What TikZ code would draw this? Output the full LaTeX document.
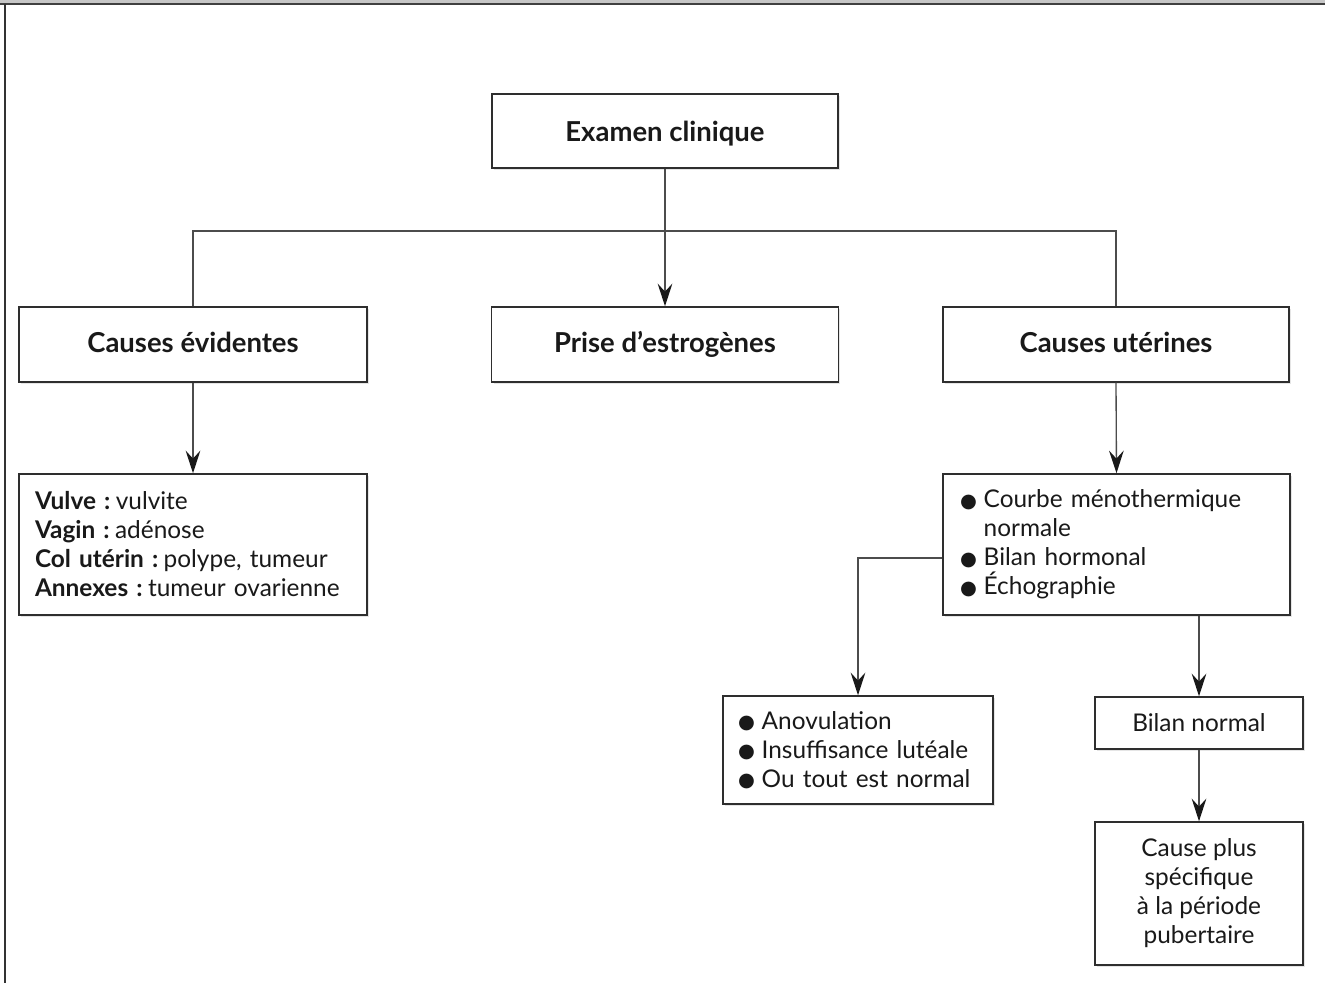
\documentclass[tikz,border=0pt]{standalone}
\usepackage{fontspec}
\setmainfont{Lato}
\newfontfamily\symfont{DejaVu Sans}
\usetikzlibrary{arrows.meta,shadows,calc}
\newcommand\blt{\raisebox{0.02em}{\symfont\fontsize{14.5}{14.5}\selectfont ●}\hspace{0.28em}}
\newcommand\titlefont{\fontsize{20.6}{24}\selectfont\bfseries}
\newcommand\bodyfont{\fontsize{18.3}{21.75}\selectfont}
\newcommand\lbl[1]{\textbf{#1}\hspace{0.22em}}
\begin{document}
\begin{tikzpicture}[x=0.75pt,y=-0.75pt,
  box/.style={draw=black!82, line width=1.1pt, fill=white,
    drop shadow={shadow xshift=1.6pt, shadow yshift=-1.6pt, opacity=0.10, fill=black},
    inner xsep=12pt, inner ysep=0pt, text=black!90},
  titlebox/.style={box, font=\titlefont, align=center, text height=14pt, text depth=2.75pt},
  listbox/.style={box, font=\bodyfont, align=left},
  link/.style={draw=black!70, line width=1pt},
  arr/.style={link, -{Stealth[length=17pt,width=11pt,inset=6pt,color=black!90,fill=black!90]}}
]
\useasboundingbox (0,0) rectangle (1325,983);

% frame: grey band on top and a rule on the left
\fill[black!22] (0,0) rectangle (1325,3.2);
\draw[black!75, line width=1.2pt] (0,4) -- (1325,4);
\draw[black!80, line width=1.5pt] (5,4) -- (5,983);

% boxes
\node[titlebox, text height=18pt, text depth=2pt, minimum width=259.5pt, minimum height=55.5pt] (exam) at (665,131) {Examen clinique};
\node[titlebox, minimum width=261pt, minimum height=56.25pt] (ev) at (193,344.5) {Causes évidentes};
\node[titlebox, minimum width=260pt, minimum height=56.25pt] (prise) at (665,344.5) {Prise d’estrogènes};
\node[titlebox, minimum width=259.5pt, minimum height=56.25pt] (uter) at (1116,344.5) {Causes utérines};

\node[listbox, text width=237pt, minimum height=105.75pt] (vulve) at (193,544.5)
  {\lbl{Vulve :}vulvite\\
   \lbl{Vagin :}adénose\\
   \lbl{Col utérin :}polype, tumeur\\
   \lbl{Annexes :}tumeur ovarienne};

\node[listbox, inner xsep=12.75pt, text width=234.75pt, minimum height=105.75pt] (courbe) at (1116.5,544.5)
  {\blt Courbe ménothermique\\
   \hphantom{\blt}normale\\
   \blt Bilan hormonal\\
   \blt Échographie};

\node[listbox, inner xsep=11.25pt, text width=180pt, minimum height=81pt] (anov) at (858,750)
  {\blt Anovulation\\
   \blt Insuffisance lutéale\\
   \blt Ou tout est normal};

\node[box, font=\bodyfont, align=center, minimum width=156pt, minimum height=39pt] (bilan) at (1199,723) {Bilan normal};

\node[box, font=\bodyfont, align=center, minimum width=156pt, minimum height=107.25pt] (cause) at (1199,893.5)
  {Cause plus\\ spécifique\\ à la période\\ pubertaire};

% connectors
\coordinate (bus) at (665,231);
\draw[link] (ev.north) |- (bus) -| (uter.north);
\draw[arr] (exam.south) -- (prise.north);
\draw[arr] (ev.south) -- (vulve.north);
\draw[arr] (uter.south) -- (courbe.north);
\draw[arr] ($(courbe.west)+(0,13.5)$) -| (anov.north);
\draw[arr] (bilan.north |- courbe.south) -- (bilan.north);
\draw[arr] (bilan.south) -- (cause.north);
\end{tikzpicture}
\end{document}
